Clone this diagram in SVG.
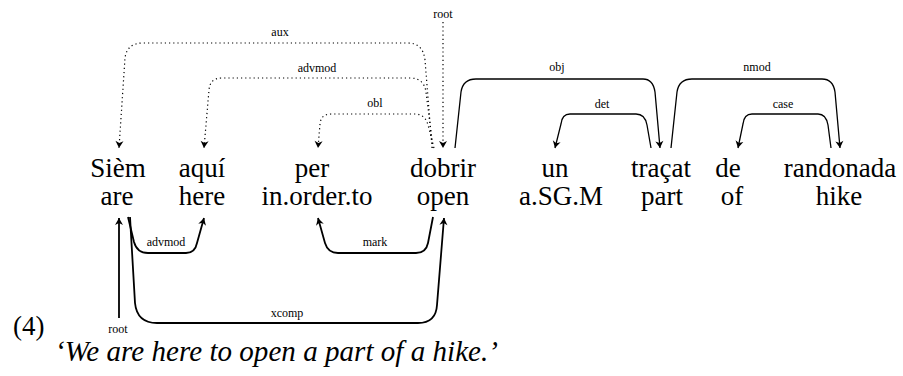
<svg xmlns="http://www.w3.org/2000/svg" width="903" height="376" viewBox="0 0 903 376">
<style>
.w{font-family:"Liberation Serif",serif;font-size:27px;text-anchor:middle;fill:#000}
.l{font-family:"Liberation Serif",serif;font-size:12px;text-anchor:middle;fill:#000}
.s{fill:none;stroke:#000;stroke-width:1.3}
.b{fill:none;stroke:#000;stroke-width:1.8}
.d{fill:none;stroke:#000;stroke-width:1.2;stroke-dasharray:1.2 3}
</style>
<defs>
<marker id="a" viewBox="-8 -4.5 9 9" refX="0" refY="0" markerWidth="9" markerHeight="9" markerUnits="userSpaceOnUse" orient="auto">
<path d="M0,0 L-7,-4 L-5,0 L-7,4 Z" fill="#000"/>
</marker>
</defs>
<rect width="903" height="376" fill="#fff"/>
<g id="w1"><text class="w" x="118" y="177">Sièm</text><text class="w" x="117" y="205">are</text></g>
<g id="w2"><text class="w" x="202" y="177">aquí</text><text class="w" x="202" y="205">here</text></g>
<g id="w3"><text class="w" x="312" y="177">per</text><text class="w" x="317" y="205">in.order.to</text></g>
<g id="w4"><text class="w" x="443" y="177">dobrir</text><text class="w" x="443" y="205">open</text></g>
<g id="w5"><text class="w" x="555" y="177">un</text><text class="w" x="561" y="205">a.SG.M</text></g>
<g id="w6"><text class="w" x="661" y="177">traçat</text><text class="w" x="662" y="205">part</text></g>
<g id="w7"><text class="w" x="728" y="177">de</text><text class="w" x="732" y="205">of</text></g>
<g id="w8"><text class="w" x="840" y="177">randonada</text><text class="w" x="839" y="205">hike</text></g>
<g id="connectors">
<path class="d" marker-end="url(#a)" d="M432,148 L425,60 Q423,43 408,43 L143,43 Q127,43 125,58 L119,148"/>
<path class="d" marker-end="url(#a)" d="M433,148 L426,92 Q424,78 410,78 L222,78 Q210,78 209,90 L204,148"/>
<path class="d" marker-end="url(#a)" d="M434,148 L428,125 Q425,114 415,114 L331,114 Q321,114 320,124 L318,148"/>
<path class="d" marker-end="url(#a)" d="M443,22 L443,148"/>
<path class="s" marker-end="url(#a)" d="M455,148 L461,92 Q463,79 476,79 L643,79 Q653,79 655,92 L660,148"/>
<path class="s" marker-end="url(#a)" d="M651,148 L647,125 Q645,114 636,114 L570,114 Q562,114 561,124 L555,148"/>
<path class="s" marker-end="url(#a)" d="M671,148 L677,92 Q679,79 692,79 L822,79 Q833,79 835,92 L840,148"/>
<path class="s" marker-end="url(#a)" d="M831,148 L828,125 Q826,114 818,114 L752,114 Q744,114 743,124 L738,148"/>
<path class="b" marker-end="url(#a)" d="M128,217 L134,242 Q137,253 148,253 L186,253 Q195,253 197,243 L204,218"/>
<path class="b" marker-end="url(#a)" d="M433,217 L428,243 Q426,253 416,253 L338,253 Q328,253 325,243 L318,218"/>
<path class="b" marker-end="url(#a)" d="M130,217 L135,303 Q137,323 157,323 L418,323 Q436,323 437,305 L444,218"/>
<path class="b" marker-end="url(#a)" d="M119,318 L119,218"/>
</g>
<g id="labels">
<text class="l" x="280" y="36">aux</text>
<text class="l" x="317" y="72">advmod</text>
<text class="l" x="375" y="107">obl</text>
<text class="l" x="443" y="18">root</text>
<text class="l" x="557" y="71">obj</text>
<text class="l" x="602" y="108">det</text>
<text class="l" x="757" y="71">nmod</text>
<text class="l" x="783" y="108">case</text>
<text class="l" x="166" y="246">advmod</text>
<text class="l" x="375" y="246">mark</text>
<text class="l" x="287" y="317">xcomp</text>
<text class="l" x="118" y="333">root</text>
</g>
<text x="13" y="335" style="font-family:'Liberation Serif',serif;font-size:27px">(4)</text>
<text x="55" y="361" style="font-family:'Liberation Serif',serif;font-size:29px;font-style:italic" textLength="443" lengthAdjust="spacing">‘We are here to open a part of a hike.’</text>
</svg>
